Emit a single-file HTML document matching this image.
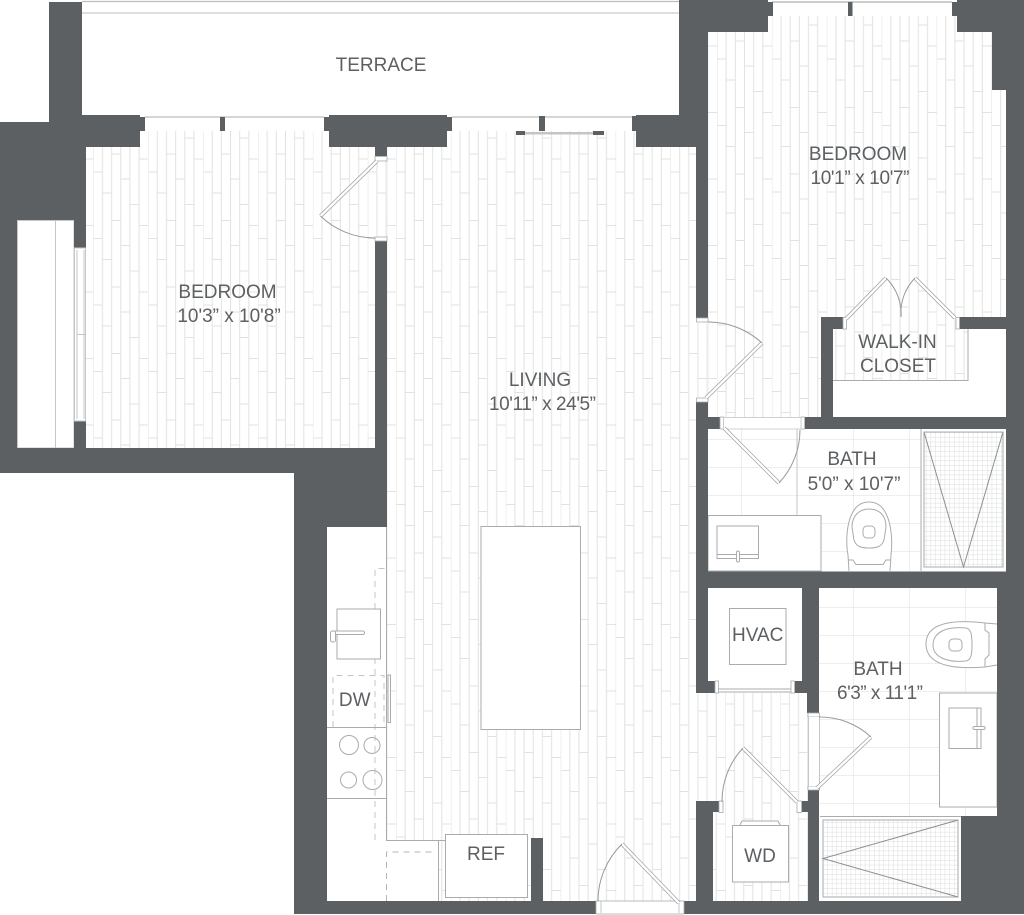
<!DOCTYPE html>
<html><head><meta charset="utf-8"><style>
html,body{margin:0;padding:0;background:#fff}
svg{display:block}
text{font-family:"Liberation Sans",sans-serif;font-size:19px;fill:#5d6063;text-anchor:middle}
.f{fill:#fff;stroke:#a9abac;stroke-width:1}
.l{fill:none;stroke:#a9abac;stroke-width:1}
.d{fill:none;stroke:#c4c5c6;stroke-width:1;stroke-dasharray:6 5}
.w rect{fill:#5d6063}
</style></head><body>
<svg width="1024" height="915" viewBox="0 0 1024 915" xmlns="http://www.w3.org/2000/svg">
<defs>
<pattern id="p1" patternUnits="userSpaceOnUse" x="93.3" y="0" width="54.9" height="66.5">
<path d="M0 0V66.5M9.15 0V66.5M18.3 0V66.5M27.45 0V66.5M36.6 0V66.5M45.75 0V66.5M0 39H9.15M9.15 60H18.3M18.3 21H27.45M27.45 46H36.6M36.6 5H45.75M45.75 26H54.9" fill="none" stroke="#e1e2e2" stroke-width="1"/>
</pattern>
<pattern id="p2" href="#p1" x="396"></pattern>
<pattern id="p3" href="#p1" x="717" y="20"></pattern>
<pattern id="t" patternUnits="userSpaceOnUse" x="13" y="19" width="56" height="28">
<path d="M0 0V28M0 0H56" fill="none" stroke="#dcdddd" stroke-width="1"/>
</pattern>
<pattern id="g" patternUnits="userSpaceOnUse" width="4.7" height="4.7">
<path d="M0 0V4.7M0 0H4.7" fill="none" stroke="#cfd0d1" stroke-width=".7"/>
</pattern>
<g id="leaves" fill="none">
<path d="M377 161L320.5 216"/>
<path d="M846 319L886 278"/>
<path d="M955 318L915 278"/>
<path d="M706 398L762 343"/>
<path d="M724 428L779 483"/>
<path d="M817 788L871 737"/>
<path d="M797 802L743 748"/>
<path d="M679 903L622 844"/>
</g>
</defs>

<!-- floors -->
<rect x="86" y="131" width="301" height="317" fill="url(#p1)"/>
<rect x="387" y="131" width="309" height="770" fill="url(#p2)"/>
<rect x="696" y="693" width="112" height="208" fill="url(#p2)"/>
<path d="M768 16H957V32H992V90H1006V417H708V32H768Z" fill="url(#p3)"/>
<rect x="833" y="329" width="173" height="88" fill="#fff"/>
<rect x="833" y="329" width="135" height="51" fill="url(#p3)"/>
<path d="M833 380.500H968V329" class="l"/>
<rect x="708" y="429" width="213" height="142" fill="url(#t)"/>
<rect x="819" y="588" width="178" height="228" fill="url(#t)"/>

<!-- terrace lines -->
<path d="M82 1.5H680" stroke="#bcbdbe" stroke-width="1.2"/>
<path d="M82 13H680" stroke="#d2d3d3" stroke-width="1.5"/>
<path d="M145 117H324M452 117H540M545 117H632" stroke="#bcbdbe" stroke-width="1.2"/>
<path d="M772 2H952" stroke="#bcbdbe" stroke-width="1.5"/>

<!-- left closet -->
<path d="M55.500 220V448" class="l" style="stroke:#c5c6c7"/>
<rect x="17.500" y="220.500" width="56.500" height="227.500" fill="none" stroke="#c5c6c7"/>

<!-- kitchen -->
<path d="M327 527H386.500V840.500H438.500V901H327Z" fill="#fff"/>
<path d="M386.500 527V840.500H445M445.500 840.500" class="l"/>
<path d="M438.500 840.500V901" class="l"/>
<path d="M375 840V568.500H386" class="d"/>
<path d="M386.500 901V852H434" class="d" style="stroke:#b4b5b6"/>
<rect x="337" y="609" width="43.500" height="50" class="f"/>
<rect x="331" y="631" width="33.500" height="3.500" rx="1.700" class="f"/>
<rect x="330.500" y="631" width="5" height="11" rx="2" class="f"/>
<path d="M333 727V675.500H384V727" class="d"/>
<rect x="388" y="675" width="2.500" height="47.500" class="f"/>
<path d="M327 727.500H386.500M327 798.500H386.500" class="l"/>
<circle cx="349" cy="745" r="9.500" class="l"/><circle cx="372" cy="745.500" r="8" class="l"/>
<circle cx="348.500" cy="780" r="8" class="l"/><circle cx="372.500" cy="780" r="9.500" class="l"/>
<rect x="445.500" y="834.500" width="82" height="63" class="f"/>
<rect x="481" y="526.500" width="99.500" height="203" class="f"/>

<!-- bath1 -->
<path d="M921 429V571" class="l"/>
<path d="M797 429V515" class="l" style="stroke:#c5c6c7"/>
<rect x="708" y="515.500" width="113" height="55.500" class="f"/>
<rect x="717" y="526" width="41.500" height="32.500" class="f"/>
<path d="M717 554.500H758.500" class="l"/>
<rect x="736.500" y="551" width="3" height="11" rx="1.500" class="f"/>
<rect x="924" y="432" width="79" height="135" fill="url(#g)" stroke="#a9abac"/>
<path d="M924 432L963.500 567L1003 432" class="l" style="stroke:#8d8f91"/>
<path d="M849 571L848 555C845 540 846 502 869 502C892 502 893 540 891 555L890 571" class="f"/>
<path d="M848 560H853L856 564.500H883L886 560H891" class="l"/>
<path d="M852 527C852 515 860 509 869 509C879 509 886 515 886 527L884 540C882 546 878 548 869 548C860 548 856 546 854 540Z" class="f"/>
<rect x="863" y="526" width="12" height="12" rx="4" class="f"/>

<!-- hvac -->
<rect x="729.500" y="608.500" width="56.500" height="56" class="f"/>

<!-- bath2 -->
<rect x="939.500" y="693" width="57.500" height="114" class="f"/>
<rect x="949" y="708" width="32" height="40.500" class="f"/>
<path d="M977 708V748.500" class="l"/>
<rect x="973" y="726.500" width="12" height="3" rx="1.500" class="f"/>
<path d="M997 624L985 623C960 620 926 620 926 644C926 668 960 669 985 667L997 665" class="f"/>
<path d="M985 623V630L989 633V655L985 659V667" class="l"/>
<path d="M966 628C945 626 933 633 933 645C933 656 945 663 966 661C971 660 972 655 972 645C972 634 971 629 966 628Z" class="f"/>
<rect x="949" y="639" width="13" height="12" rx="4" class="f"/>
<path d="M820 816.500H961" class="l"/>
<rect x="823" y="820" width="135" height="77" fill="url(#g)" stroke="#a9abac"/>
<path d="M958 820L823 858.500L958 897" class="l" style="stroke:#8d8f91"/>

<!-- WD -->
<path d="M740 825L742 821H778L780 825" class="f"/>
<rect x="732.500" y="825.500" width="56" height="56.500" class="f"/>

<!-- walls -->
<g class="w">
<rect x="49" y="2" width="33" height="120"/>
<rect x="0" y="122" width="86" height="98"/>
<rect x="82" y="115" width="58" height="32"/>
<rect x="0" y="220" width="17" height="253"/>
<rect x="74" y="220" width="12" height="28"/>
<rect x="74" y="421" width="12" height="27"/>
<rect x="0" y="448" width="387" height="25"/>
<rect x="375" y="241" width="12" height="207"/>
<rect x="294" y="473" width="93" height="54"/>
<rect x="294" y="527" width="33" height="387"/>
<rect x="294" y="901" width="302" height="13"/>
<rect x="329" y="115" width="118" height="32"/>
<rect x="375" y="147" width="12" height="9"/>
<rect x="531" y="838" width="12" height="63"/>
<rect x="140" y="117" width="5" height="14"/><rect x="220" y="117" width="5" height="14"/>
<rect x="324" y="117" width="5" height="14"/><rect x="447" y="117" width="5" height="14"/>
<rect x="539" y="116" width="6" height="15"/><rect x="632" y="116" width="4" height="15"/>
<rect x="516" y="131" width="9" height="4"/><rect x="593" y="131" width="11" height="4"/>
<rect x="679" y="0" width="89" height="32"/>
<rect x="679" y="0" width="29" height="147"/>
<rect x="636" y="115" width="72" height="32"/>
<rect x="696" y="147" width="12" height="171"/>
<rect x="767" y="2" width="6" height="14"/><rect x="848" y="2" width="4.500" height="14"/><rect x="952" y="2" width="5" height="14"/>
<rect x="957" y="0" width="67" height="32"/>
<rect x="992" y="32" width="32" height="58"/>
<rect x="1006" y="90" width="18" height="498"/>
<rect x="821" y="317" width="12" height="112"/>
<rect x="821" y="317" width="22" height="12"/>
<rect x="959" y="317" width="47" height="12"/>
<rect x="805" y="417" width="201" height="12"/>
<rect x="708" y="417" width="12" height="12"/>
<rect x="696" y="402" width="12" height="291"/>
<rect x="696" y="571.500" width="328" height="16.500"/>
<rect x="997" y="588" width="27" height="228"/>
<rect x="961" y="816" width="63" height="98"/>
<rect x="802" y="588" width="17" height="93"/>
<rect x="708" y="681" width="7" height="12"/>
<rect x="795" y="681" width="24" height="12"/>
<rect x="807" y="693" width="12" height="20"/>
<rect x="696" y="801" width="17" height="100"/>
<rect x="696" y="801" width="23" height="11"/>
<rect x="802" y="801" width="17" height="11"/>
<rect x="808" y="790" width="11" height="111"/>
<rect x="684" y="901" width="340" height="13"/>
</g>
<rect x="525" y="132" width="68" height="2.500" fill="#c4c5c6"/>

<!-- door thresholds/jambs -->
<g fill="#fff" stroke="#a9abac" stroke-width=".8">
<rect x="375" y="156.500" width="12" height="4.500"/><rect x="375" y="237" width="12" height="4"/>
<rect x="843" y="317.500" width="3.500" height="11.500"/><rect x="956" y="317.500" width="3.500" height="11.500"/>
<rect x="696.500" y="318" width="11.500" height="4"/><rect x="696.500" y="398" width="11.500" height="4"/>
<rect x="720" y="417" width="3.500" height="12"/><rect x="801" y="417" width="3.500" height="12"/>
<rect x="715" y="681" width="3.500" height="12"/><rect x="791" y="681" width="3.500" height="12"/>
<rect x="808" y="713" width="11.500" height="4"/><rect x="808" y="786" width="11.500" height="4"/>
<rect x="719" y="801" width="4" height="11.500"/><rect x="797" y="801" width="4.500" height="11.500"/>
</g>
<path d="M718 689H791M718 692H791" class="l"/>
<rect x="723.500" y="417.500" width="77.500" height="11.500" fill="#fff" stroke="#c5c6c7" stroke-width=".8"/>
<rect x="808" y="717" width="11.500" height="69" fill="#fff"/>
<path d="M808.500 717V786M819.500 717V786" class="l" style="stroke:#c5c6c7"/>
<rect x="696" y="322" width="12" height="76" fill="url(#p2)"/>
<rect x="596" y="901" width="88" height="13" fill="#fff" stroke="#a9abac" stroke-width=".8"/>
<path d="M601 901V913M679 901V913" class="l" style="stroke:#c5c6c7"/>
<!-- side window -->
<rect x="74" y="248" width="12" height="173" fill="#fff"/>
<path d="M74.500 248H85.500V421H74.500Z M77 250V419 M84 250V419 M77 334.500H85" class="l" style="stroke:#c5c6c7"/>

<!-- door leaves & arcs -->
<use href="#leaves" stroke="#97999b" stroke-width="3.800"/>
<use href="#leaves" stroke="#fff" stroke-width="2.500"/>
<g style="stroke:#97999b;fill:none;stroke-width:1">
<path d="M320.500 216A78 78 0 0 0 375 238"/>
<path d="M886 278A50 50 0 0 1 901 317"/>
<path d="M915 278A50 50 0 0 0 901 317"/>
<path d="M708 322A79 79 0 0 1 762 343"/>
<path d="M779 483A78 78 0 0 0 800 430"/>
<path d="M819 717A75 75 0 0 1 871 737"/>
<path d="M743 748A78 78 0 0 0 722 802"/>
<path d="M622 844A80 80 0 0 0 598 901"/>
</g>

<!-- labels -->
<text x="381" y="71">TERRACE</text>
<text x="227.500" y="298">BEDROOM</text>
<text x="229" y="322">10'3” x 10'8”</text>
<text x="858" y="160">BEDROOM</text>
<text x="860" y="184" textLength="99">10'1” x 10'7”</text>
<text x="540" y="386">LIVING</text>
<text x="542.500" y="410" textLength="107">10'11” x 24'5”</text>
<text x="897.500" y="348">WALK-IN</text>
<text x="898" y="372">CLOSET</text>
<text x="852" y="465">BATH</text>
<text x="854" y="490">5'0” x 10'7”</text>
<text x="878" y="675">BATH</text>
<text x="880" y="699" textLength="86">6'3” x 11'1”</text>
<text x="757.700" y="641">HVAC</text>
<text x="760" y="862">WD</text>
<text x="354.700" y="706">DW</text>
<text x="486" y="860">REF</text>
</svg>
</body></html>
